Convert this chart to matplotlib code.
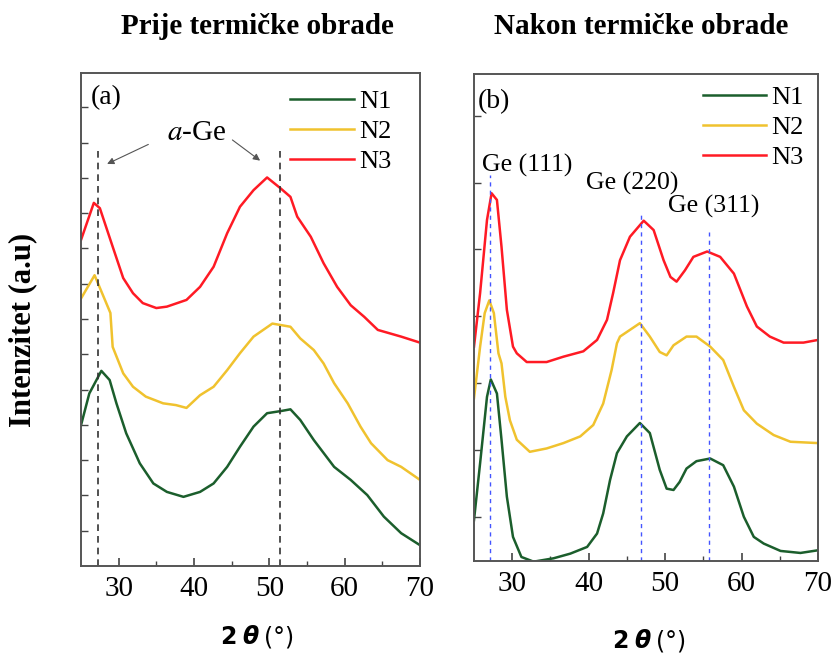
import numpy as np
import matplotlib
matplotlib.use('Agg')
import matplotlib.pyplot as plt
from matplotlib.offsetbox import TextArea, HPacker, AnchoredOffsetbox

plt.rcParams['font.family'] = 'Liberation Serif'
plt.rcParams['mathtext.fontset'] = 'stix'

green = '#1b5e2c'
yellow = '#f0c22e'
red = '#ff1a24'

# (a) before annealing
a_n3_x = [25, 26.7, 27.5, 29.2, 30.6, 31.9, 33.2, 35.0, 36.4, 39.0, 40.8, 42.6, 44.4, 46.1, 47.9,
          49.7, 51.5, 52.8, 53.7, 55.5, 57.2, 59.0, 60.8, 62.6, 64.4, 67.5, 70]
a_n3_y = [9.24, 10.29, 10.14, 9.05, 8.16, 7.73, 7.45, 7.31, 7.35, 7.54, 7.91, 8.48, 9.43, 10.18, 10.65,
          11.01, 10.70, 10.46, 9.90, 9.33, 8.58, 7.91, 7.39, 7.06, 6.69, 6.50, 6.33]

a_n2_x = [25, 26.8, 28.9, 29.2, 30.6, 31.9, 33.6, 35.9, 37.6, 39.0, 40.8, 42.6, 44.4, 46.1, 47.9,
          50.4, 52.8, 54.1, 55.9, 57.2, 58.6, 60.4, 62.1, 63.5, 65.7, 67.5, 70]
a_n2_y = [7.58, 8.24, 7.17, 6.21, 5.46, 5.08, 4.80, 4.61, 4.56, 4.48, 4.84, 5.08, 5.55, 6.03, 6.50,
          6.87, 6.78, 6.45, 6.12, 5.74, 5.18, 4.61, 3.95, 3.48, 3.00, 2.81, 2.44]

a_n1_x = [25, 26.1, 27.7, 28.8, 29.7, 31.0, 32.8, 34.6, 36.4, 38.6, 40.8, 42.6, 44.4, 46.1, 47.9,
          49.7, 51.5, 52.8, 54.1, 55.9, 58.6, 60.8, 63.0, 65.2, 67.5, 70]
a_n1_y = [3.99, 4.89, 5.53, 5.27, 4.61, 3.76, 2.91, 2.34, 2.10, 1.96, 2.10, 2.34, 2.81, 3.38, 3.95,
          4.33, 4.39, 4.44, 4.14, 3.57, 2.81, 2.44, 2.01, 1.40, 0.93, 0.59]

# (b) after annealing
b_n3_x = [25, 25.8, 26.7, 27.3, 28.0, 28.6, 29.3, 30.1, 30.6, 31.9, 34.5, 36.7, 39.3, 41.1, 42.4,
          43.2, 44.1, 45.4, 47.2, 48.5, 49.8, 50.7, 51.5, 52.6, 53.7, 55.5, 57.2, 59.0, 60.7, 62.0,
          63.7, 65.5, 68.1, 70]
b_n3_y = [3.55, 4.35, 5.44, 5.84, 5.74, 5.04, 4.10, 3.55, 3.45, 3.32, 3.32, 3.40, 3.48, 3.65, 3.95,
          4.35, 4.84, 5.19, 5.43, 5.29, 4.84, 4.59, 4.52, 4.69, 4.89, 4.97, 4.89, 4.64, 4.15, 3.85,
          3.70, 3.61, 3.61, 3.65]

b_n2_x = [25, 25.8, 26.4, 27.0, 27.6, 28.2, 28.6, 29.1, 29.7, 30.6, 32.3, 34.5, 36.7, 38.9, 40.6,
          41.9, 43.0, 43.7, 44.1, 45.4, 46.7, 48.0, 49.3, 50.2, 51.1, 52.8, 54.1, 55.9, 57.6, 59.0,
          60.3, 62.0, 64.2, 66.4, 70]
b_n2_y = [2.78, 3.55, 4.05, 4.24, 4.05, 3.45, 3.30, 2.80, 2.45, 2.16, 1.98, 2.03, 2.11, 2.21, 2.38,
          2.70, 3.20, 3.60, 3.70, 3.80, 3.90, 3.70, 3.47, 3.42, 3.57, 3.70, 3.70, 3.55, 3.35, 2.95,
          2.60, 2.40, 2.23, 2.13, 2.11]

b_n1_x = [25, 25.8, 26.7, 27.2, 28.0, 28.6, 29.3, 30.1, 31.2, 32.8, 35.4, 37.6, 39.8, 41.1, 41.9,
          42.8, 43.7, 45.0, 46.7, 48.0, 49.3, 50.2, 51.1, 51.9, 52.8, 54.1, 55.9, 57.6, 59.0, 60.3,
          61.6, 62.9, 65.1, 67.7, 70]
b_n1_y = [0.96, 1.81, 2.80, 3.06, 2.85, 2.16, 1.31, 0.71, 0.41, 0.34, 0.39, 0.46, 0.56, 0.76, 1.06,
          1.56, 1.96, 2.21, 2.41, 2.26, 1.71, 1.43, 1.41, 1.53, 1.73, 1.84, 1.88, 1.78, 1.46, 1.01,
          0.71, 0.61, 0.50, 0.47, 0.51]

labels = ['N1', 'N2', 'N3']
a_ge_pos = [27.25, 51.4]
b_peaks = [27.1, 46.9, 55.8]
b_peak_tops = [6.11, 5.51, 5.26]
b_peak_labels = ['Ge (111)', 'Ge (220)', 'Ge (311)']
b_label_pos = [(31.9, 6.26), (45.7, 5.98), (56.4, 5.64)]

fig = plt.figure(figsize=(8.37, 6.53), dpi=100)
ax1 = fig.add_axes([0.0968, 0.1332, 0.405, 0.755])
ax2 = fig.add_axes([0.5663, 0.1409, 0.411, 0.7458])


def style_axis(ax, ymin, ymax, yticks):
    ax.set_xlim(25, 70)
    ax.set_ylim(ymin, ymax)
    ax.set_xticks([30, 40, 50, 60, 70])
    ax.set_xticks([35, 45, 55, 65], minor=True)
    ax.set_yticks(yticks)
    ax.set_yticklabels([])
    ax.tick_params(axis='both', which='both', direction='in', top=False, right=False,
                   color='#444444')
    ax.tick_params(axis='x', which='major', length=6, width=1.2, labelsize=21, pad=7)
    ax.tick_params(axis='x', which='minor', length=3.5, width=1.0)
    ax.tick_params(axis='y', which='major', length=5, width=1.0)
    for s in ax.spines.values():
        s.set_color('#555555')
        s.set_linewidth(1.4)


for ax, curves in [(ax1, [(a_n1_x, a_n1_y), (a_n2_x, a_n2_y), (a_n3_x, a_n3_y)]),
                   (ax2, [(b_n1_x, b_n1_y), (b_n2_x, b_n2_y), (b_n3_x, b_n3_y)])]:
    for (xs, ys), c, lab in zip(curves, [green, yellow, red], labels):
        ax.plot(xs, ys, color=c, lw=1.8, label=lab)

style_axis(ax1, 0, 13.97, np.arange(1, 14))
style_axis(ax2, 0.35, 7.62, np.arange(1, 8))

# (a) annotations
for p in a_ge_pos:
    ax1.plot([p, p], [0, 11.84], ls='--', color='#333333', lw=1.2, dashes=(4, 3))
ax1.text(40.4, 12.27, r'$\mathit{a}$-Ge', fontsize=21, ha='center', va='center')
ax1.annotate('', xy=(28.13, 11.36), xytext=(34.27, 11.98),
             arrowprops=dict(arrowstyle='-|>', color='#555555', lw=0.8, mutation_scale=10))
ax1.annotate('', xy=(49.07, 11.44), xytext=(44.8, 12.12),
             arrowprops=dict(arrowstyle='-|>', color='#555555', lw=0.8, mutation_scale=10))
ax1.text(0.03, 0.975, '(a)', transform=ax1.transAxes, fontsize=20, va='top', ha='left')

# (b) annotations
for p, top in zip(b_peaks, b_peak_tops):
    ax2.plot([p, p], [0.35, top], ls='--', color='#4455ff', lw=1.0, dashes=(3, 3))
for lab, (px, py) in zip(b_peak_labels, b_label_pos):
    ax2.text(px, py, lab, fontsize=18.5, ha='center', va='center')
ax2.text(0.012, 0.97, '(b)', transform=ax2.transAxes, fontsize=20, va='top', ha='left')

for ax, anchor in [(ax1, (0.617, 0.967)), (ax2, (0.666, 0.976))]:
    ax.legend(loc='upper left', bbox_to_anchor=anchor, frameon=False, fontsize=19,
              handlelength=2.4, handletextpad=0.2, labelspacing=0.25, borderpad=0,
              borderaxespad=0)

# titles
fig.text(257 / 837, 1 - 26 / 653, 'Prije termičke obrade', fontsize=21, fontweight='bold',
         ha='center', va='center')
fig.text(641 / 837, 1 - 26 / 653, 'Nakon termičke obrade', fontsize=21, fontweight='bold',
         ha='center', va='center')
fig.text(23 / 837, 1 - 330 / 653, 'Intenzitet (a.u)', fontsize=22, fontweight='bold',
         rotation=90, ha='center', va='center')


# x labels: "2 θ (°)" with bold sans parts
def xlabel_box(x, y):
    parts = [TextArea('2', textprops=dict(family='DejaVu Sans', weight='bold', size=17)),
             TextArea('θ', textprops=dict(family='DejaVu Sans', weight='bold', style='italic', size=17)),
             TextArea('(°)', textprops=dict(family='DejaVu Sans', size=17))]
    box = HPacker(children=parts, align='baseline', pad=0, sep=4)
    anc = AnchoredOffsetbox(loc='center', child=box, frameon=False, pad=0, borderpad=0,
                            bbox_to_anchor=(x, y), bbox_transform=fig.transFigure)
    fig.add_artist(anc)


xlabel_box(257 / 837, 1 - 637 / 653)
xlabel_box(649 / 837, 1 - 641 / 653)

fig.savefig('out.png', dpi=100)
